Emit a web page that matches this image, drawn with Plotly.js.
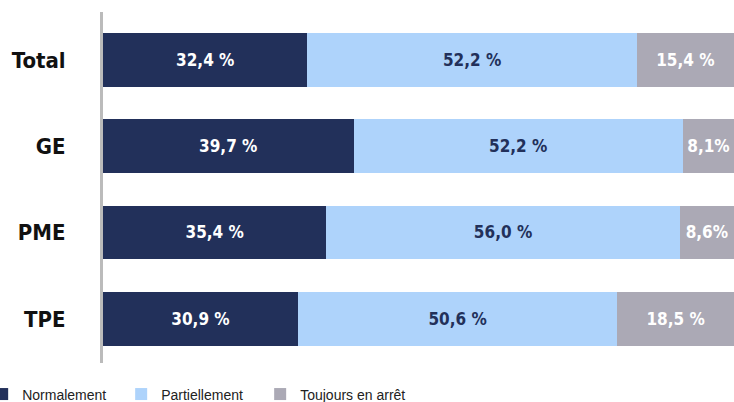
<!DOCTYPE html>
<html>
<head>
<meta charset="utf-8">
<script src="https://cdn.plot.ly/plotly-3.0.1.min.js"></script>
<style>
html,body{margin:0;padding:0;background:#fff;}
#chart{width:734px;height:402px;}
.legend .scrollbox{clip-path:none !important;}
</style>
</head>
<body>
<div id="chart"></div>
<script>
var categories = ['Total', 'GE', 'PME', 'TPE'];
var seriesNames = ['Normalement', 'Partiellement', 'Toujours en arrêt'];
var normalement = [32.4, 39.7, 35.4, 30.9];
var partiellement = [52.2, 52.2, 56.0, 50.6];
var toujoursEnArret = [15.4, 8.1, 8.6, 18.5];

var colors = ['#22305a', '#aed3fb', '#aba9b5'];
var textColors = ['#ffffff', '#22305a', '#ffffff'];

function fmt(v) {
  return v.toFixed(1).replace('.', ',') + (v < 10 ? '%' : ' %');
}

var series = [normalement, partiellement, toujoursEnArret];
var traces = series.map(function (vals, i) {
  return {
    type: 'bar',
    orientation: 'h',
    name: seriesNames[i],
    y: categories,
    x: vals,
    text: vals.map(fmt),
    texttemplate: '%{text}',
    textposition: 'inside',
    insidetextanchor: 'middle',
    constraintext: 'none',
    textangle: 0,
    textfont: {family: '"DejaVu Sans Condensed", "DejaVu Sans", sans-serif', size: 17, color: textColors[i], weight: 'bold'},
    marker: {color: colors[i], line: {width: 0}},
    width: 0.62,
    hoverinfo: 'skip'
  };
});

var layout = {
  width: 734,
  height: 402,
  margin: {l: 103, r: 0, t: 12, b: 39, autoexpand: false},
  barmode: 'stack',
  paper_bgcolor: '#ffffff',
  plot_bgcolor: '#ffffff',
  showlegend: true,
  legend: {
    orientation: 'h',
    x: -0.1915,
    xanchor: 'left',
    y: -0.044,
    yanchor: 'top',
    entrywidth: 94,
    entrywidthmode: 'pixels',
    traceorder: 'normal',
    font: {family: '"Liberation Sans", Arial, sans-serif', size: 14, color: '#222222'}
  },
  xaxis: {
    range: [0, 100],
    showgrid: false,
    zeroline: false,
    showline: false,
    showticklabels: false,
    ticks: '',
    fixedrange: true,
    automargin: false
  },
  yaxis: {
    type: 'category',
    categoryorder: 'array',
    categoryarray: categories,
    range: [3.512, -0.554],
    showgrid: false,
    zeroline: false,
    showline: true,
    linecolor: '#bbbbbb',
    linewidth: 3,
    ticks: '',
    ticklabelstandoff: 30,
    automargin: false,
    tickfont: {family: '"DejaVu Sans Condensed", "DejaVu Sans", sans-serif', size: 22, color: '#111111', weight: 'bold'},
    fixedrange: true
  },
  hovermode: false
};

Plotly.newPlot('chart', traces, layout, {displayModeBar: false, staticPlot: true});
</script>
</body>
</html>
